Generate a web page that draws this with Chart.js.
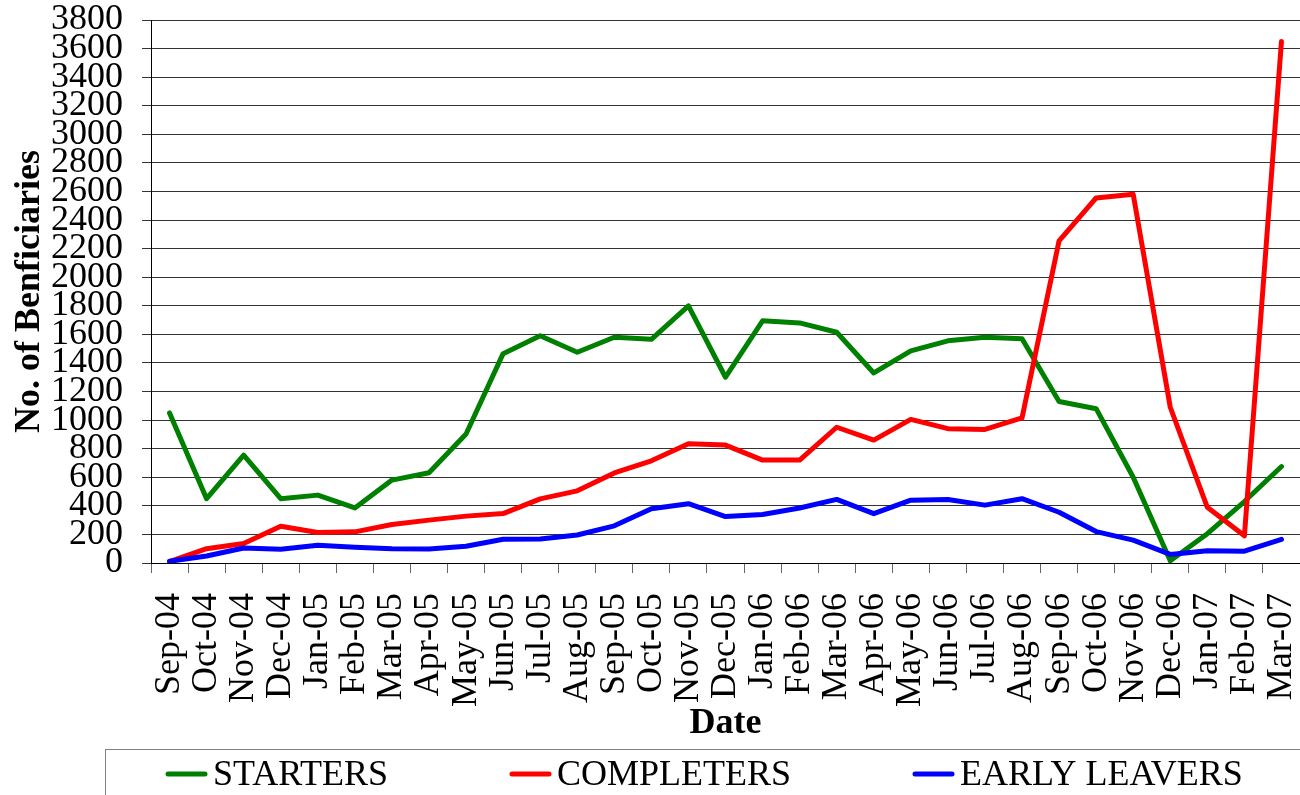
<!DOCTYPE html>
<html>
<head>
<meta charset="utf-8">
<script src="https://cdn.jsdelivr.net/npm/chart.js@4/dist/chart.umd.min.js"></script>
<style>
html,body{margin:0;padding:0;background:#fff;}
#wrap{width:1300px;height:795px;position:relative;}
</style>
</head>
<body>
<div id="wrap"><canvas id="c" width="1300" height="795"></canvas></div>
<script>
const categories = ["Sep-04","Oct-04","Nov-04","Dec-04","Jan-05","Feb-05","Mar-05","Apr-05","May-05","Jun-05","Jul-05","Aug-05","Sep-05","Oct-05","Nov-05","Dec-05","Jan-06","Feb-06","Mar-06","Apr-06","May-06","Jun-06","Jul-06","Aug-06","Sep-06","Oct-06","Nov-06","Dec-06","Jan-07","Feb-07","Mar-07"];
const starters = [1050,450,755,450,475,385,580,632,903,1465,1590,1475,1580,1565,1800,1300,1695,1680,1615,1330,1485,1555,1580,1570,1130,1080,600,15,205,430,675];
const completers = [10,100,136,257,213,218,269,300,328,346,449,505,630,715,835,825,720,720,950,860,1005,940,935,1015,2255,2555,2580,1090,390,190,3650];
const earlyLeavers = [12,49,105,96,124,110,100,98,117,166,168,196,260,380,415,325,340,385,445,345,440,445,405,450,355,220,160,60,85,83,165];
const seriesNames = ["STARTERS","COMPLETERS","EARLY LEAVERS"];
const yTitle = "No. of Benficiaries";
const xTitle = "Date";

Chart.defaults.font.family = "'Liberation Serif', 'Times New Roman', serif";
Chart.defaults.color = "#000";

const legendPlugin = {
  id: 'boxLegend',
  afterDraw(chart) {
    const ctx = chart.ctx;
    ctx.save();
    ctx.strokeStyle = '#808080';
    ctx.lineWidth = 1;
    ctx.strokeRect(105.5, 749.5, 1260, 100);
    ctx.font = "36px 'Liberation Serif'";
    ctx.textBaseline = 'middle';
    ctx.textAlign = 'left';
    let x = 168;
    const y = 774;
    chart.data.datasets.forEach(ds => {
      ctx.strokeStyle = ds.borderColor;
      ctx.lineWidth = 5;
      ctx.lineCap = 'round';
      ctx.beginPath();
      ctx.moveTo(x, y);
      ctx.lineTo(x + 37, y);
      ctx.stroke();
      ctx.fillStyle = '#000';
      ctx.fillText(ds.label, x + 45, y + 2);
      x += 45 + ctx.measureText(ds.label).width + 124;
    });
    ctx.restore();
  }
};

const mk = (label, data, color, order) => ({
  label, data, borderColor: color, backgroundColor: color,
  borderWidth: 5, pointRadius: 0, pointHoverRadius: 0, tension: 0,
  borderJoinStyle: 'round', borderCapStyle: 'round', fill: false, order
});

new Chart(document.getElementById('c'), {
  type: 'line',
  data: {
    labels: categories,
    datasets: [
      mk(seriesNames[0], starters, '#008000', 3),
      mk(seriesNames[1], completers, '#FF0000', 2),
      mk(seriesNames[2], earlyLeavers, '#0000FF', 1)
    ]
  },
  options: {
    responsive: false,
    animation: false,
    devicePixelRatio: 1,
    layout: { padding: { top: 20, right: 0, bottom: 50, left: 0 } },
    plugins: { legend: { display: false }, tooltip: { enabled: false } },
    scales: {
      x: {
        type: 'category',
        offset: true,
        grid: { offset: true, drawOnChartArea: false, drawTicks: true, tickLength: 10, color: '#666' },
        border: { display: true, color: '#000', width: 1 },
        ticks: { autoSkip: false, minRotation: 90, maxRotation: 90, padding: 20, font: { size: 36, lineHeight: 1 }, color: '#000' },
        title: { display: true, text: xTitle, font: { size: 36, weight: 'bold', lineHeight: 1.2 }, padding: { top: 0, bottom: 0 }, color: '#000' },
        afterFit(s) { s.height = 182; s.paddingRight = 0; s.paddingLeft = 0; }
      },
      y: {
        min: 0, max: 3800,
        grid: { color: '#333', lineWidth: 1, drawTicks: true, tickLength: 9 },
        border: { display: true, color: '#000', width: 1 },
        ticks: { stepSize: 200, autoSkip: false, padding: 19, font: { size: 36, lineHeight: 1 }, color: '#000', callback: v => String(v) },
        title: { display: true, text: yTitle, font: { size: 36, weight: 'bold', lineHeight: 1.2 }, padding: { top: 8, bottom: 0 }, color: '#000' },
        afterFit(s) { s.width = 151; s.paddingTop = 0; s.paddingBottom = 0; }
      }
    }
  },
  plugins: [legendPlugin]
});
</script>
</body>
</html>
